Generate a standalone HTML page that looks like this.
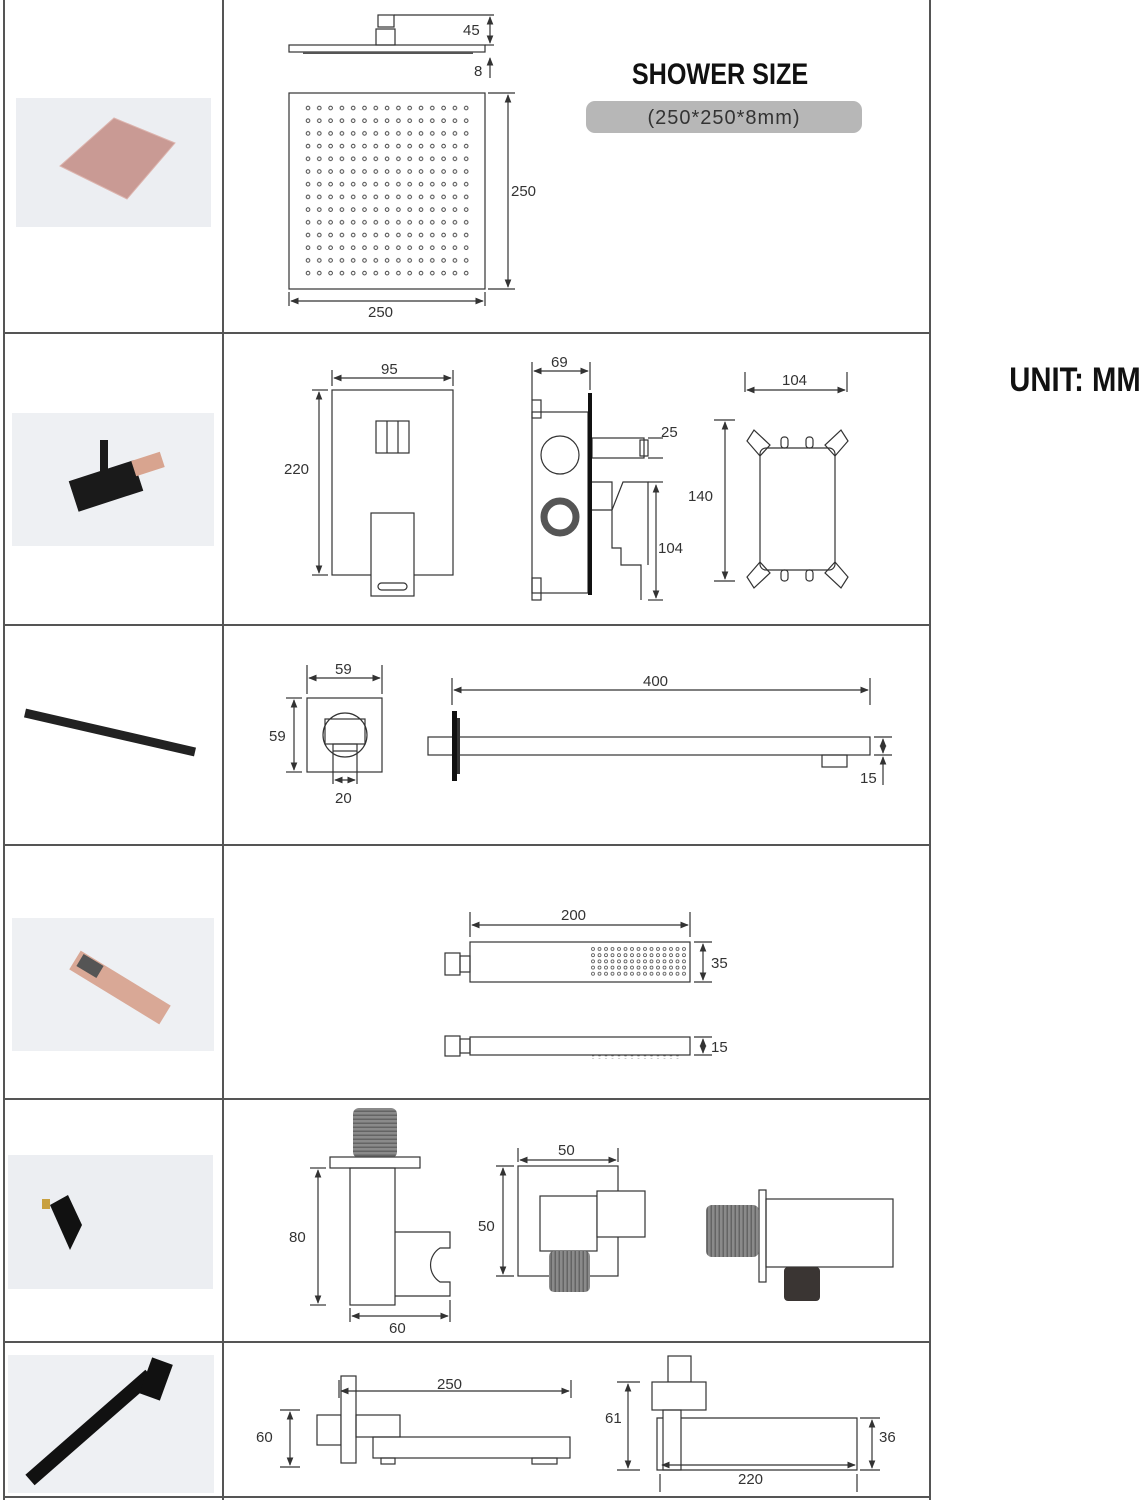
<!DOCTYPE html>
<html><head><meta charset="utf-8"><style>
html,body{margin:0;padding:0;background:#fff;}
svg{display:block;}
text{font-family:"Liberation Sans",sans-serif;fill:#333;}
</style></head><body>
<svg width="1145" height="1500" viewBox="0 0 1145 1500" xmlns="http://www.w3.org/2000/svg">
<defs>
<marker id="a" viewBox="0 0 10 10" refX="9" refY="5" markerWidth="7" markerHeight="7" orient="auto-start-reverse"><path d="M0,1 L10,5 L0,9 z" fill="#333"/></marker>
<pattern id="dots" x="303" y="103" width="11.3" height="12.7" patternUnits="userSpaceOnUse"><circle cx="5" cy="5" r="1.8" fill="none" stroke="#444" stroke-width="1"/></pattern>
<pattern id="hd" x="590" y="946" width="6.5" height="6.2" patternUnits="userSpaceOnUse"><circle cx="3" cy="3" r="1.5" fill="none" stroke="#555" stroke-width="0.8"/></pattern>
<pattern id="thr" width="6" height="4" patternUnits="userSpaceOnUse"><rect width="6" height="4" fill="#8a8a8a"/><rect y="2.6" width="6" height="1.2" fill="#5a5a5a"/></pattern>
<pattern id="thrv" width="4" height="6" patternUnits="userSpaceOnUse"><rect width="4" height="6" fill="#8a8a8a"/><rect x="2.6" width="1.2" height="6" fill="#5a5a5a"/></pattern>
</defs>

<g stroke="#555" stroke-width="2" fill="none">
<line x1="4" y1="0" x2="4" y2="1500"/>
<line x1="223" y1="0" x2="223" y2="1500"/>
<line x1="930" y1="0" x2="930" y2="1500"/>
<line x1="4" y1="333" x2="930" y2="333"/>
<line x1="4" y1="625" x2="930" y2="625"/>
<line x1="4" y1="845" x2="930" y2="845"/>
<line x1="4" y1="1099" x2="930" y2="1099"/>
<line x1="4" y1="1342" x2="930" y2="1342"/>
<line x1="4" y1="1497" x2="930" y2="1497"/>
</g>

<rect x="16" y="98" width="195" height="129" fill="#eceef2"/>
<polygon points="60,166 114,118 175,143 127,199" fill="#c99a94" stroke="#dcb4ae"/>
<rect x="12" y="413" width="202" height="133" fill="#eef0f3"/>
<g fill="#1a1a1a"><rect x="72" y="470" width="68" height="32" transform="rotate(-18 106 486)"/><rect x="100" y="440" width="8" height="40"/></g>
<rect x="133" y="456" width="30" height="16" fill="#d8a48f" transform="rotate(-18 148 464)"/>
<line x1="25" y1="713" x2="195" y2="752" stroke="#222" stroke-width="9"/>
<rect x="12" y="918" width="202" height="133" fill="#eef0f3"/>
<line x1="75" y1="960" x2="165" y2="1015" stroke="#d9a896" stroke-width="22"/>
<line x1="80" y1="960" x2="100" y2="972" stroke="#555" stroke-width="14"/>
<rect x="8" y="1155" width="205" height="134" fill="#eceef2"/>
<polygon points="50,1205 68,1195 82,1225 70,1250" fill="#111"/>
<rect x="42" y="1199" width="8" height="10" fill="#c8a040"/>
<rect x="8" y="1355" width="206" height="138" fill="#eef0f3"/>
<line x1="30" y1="1480" x2="150" y2="1375" stroke="#111" stroke-width="14"/>
<rect x="145" y="1360" width="22" height="38" fill="#111" transform="rotate(20 156 1379)"/>

<g stroke="#333" stroke-width="1.2" fill="none">
<rect x="289" y="45" width="196" height="7"/>
<rect x="376" y="29" width="19" height="16"/>
<rect x="378" y="15" width="16" height="12"/>
<line x1="394" y1="15" x2="494" y2="15"/>
<line x1="485" y1="45" x2="494" y2="45"/>
<rect x="289" y="93" width="196" height="196"/>
<line x1="488" y1="93" x2="515" y2="93"/><line x1="488" y1="289" x2="515" y2="289"/>
<line x1="289" y1="292" x2="289" y2="306"/><line x1="485" y1="292" x2="485" y2="306"/>
</g>
<g fill="#555"><rect x="303" y="52" width="170" height="2"/></g>
<rect x="303" y="103" width="170" height="178" fill="url(#dots)"/>
<g stroke="#333" stroke-width="1.2" marker-start="url(#a)" marker-end="url(#a)">
<line x1="490" y1="17" x2="490" y2="43"/>
<line x1="508" y1="95" x2="508" y2="287"/>
<line x1="291" y1="301" x2="483" y2="301"/>
</g>
<line x1="490" y1="58" x2="490" y2="78" stroke="#333" stroke-width="1.2" marker-start="url(#a)"/>
<g font-size="15"><text x="463" y="35">45</text><text x="474" y="76">8</text><text x="511" y="196">250</text><text x="368" y="317">250</text></g>
<text x="720" y="84" text-anchor="middle" font-weight="bold" font-size="30" style="fill:#111" transform="translate(720 0) scale(0.84 1) translate(-720 0)">SHOWER SIZE</text>
<rect x="586" y="101" width="276" height="32" rx="9" fill="#b7b7b7"/>
<text x="724" y="124" text-anchor="middle" font-size="20" style="fill:#333;letter-spacing:1px">(250*250*8mm)</text>
<text x="1075" y="391" text-anchor="middle" font-weight="bold" font-size="34" style="fill:#111" transform="translate(1075 0) scale(0.86 1) translate(-1075 0)">UNIT: MM</text>

<g stroke="#333" stroke-width="1.2" fill="none">
<rect x="332" y="390" width="121" height="185"/>
<rect x="376" y="421" width="33" height="32"/><line x1="387" y1="421" x2="387" y2="453"/><line x1="398" y1="421" x2="398" y2="453"/>
<rect x="371" y="513" width="43" height="83" fill="#fff"/>
<rect x="378" y="583" width="29" height="7" rx="3.5"/>
<line x1="332" y1="370" x2="332" y2="386"/><line x1="453" y1="370" x2="453" y2="386"/>
<line x1="312" y1="390" x2="328" y2="390"/><line x1="312" y1="575" x2="328" y2="575"/>
<rect x="532" y="412" width="56" height="181"/>
<rect x="532" y="400" width="9" height="18"/><rect x="532" y="578" width="9" height="22"/>
<circle cx="560" cy="455" r="19"/>
<rect x="592" y="438" width="52" height="20"/><rect x="640" y="440" width="8" height="16"/>
<path d="M592,510 L612,510 L612,548 L621,548 L621,565 L641,565 L641,600 M612,510 L623,482 L648,482 L648,565"/>
<path d="M592,482 L612,482 L612,510"/>
<line x1="532" y1="362" x2="532" y2="400"/><line x1="590" y1="362" x2="590" y2="390"/>
<line x1="648" y1="600" x2="663" y2="600"/><line x1="648" y1="482" x2="663" y2="482"/>
<line x1="648" y1="438" x2="663" y2="438"/><line x1="648" y1="458" x2="663" y2="458"/>
<rect x="760" y="448" width="75" height="122" rx="6"/>
<line x1="745" y1="372" x2="745" y2="392"/><line x1="847" y1="372" x2="847" y2="392"/>
<line x1="714" y1="420" x2="735" y2="420"/><line x1="714" y1="581" x2="735" y2="581"/>
</g>
<circle cx="560" cy="517" r="16" fill="none" stroke="#555" stroke-width="7"/>
<rect x="588" y="393" width="4" height="202" fill="#111"/>
<g stroke="#333" stroke-width="1.2" fill="none">
<path d="M760,456 L747,441 L754,430 L770,445 Z"/><path d="M835,456 L848,441 L841,430 L825,445 Z"/>
<path d="M760,562 L747,577 L754,588 L770,573 Z"/><path d="M835,562 L848,577 L841,588 L825,573 Z"/>
<rect x="781" y="437" width="7" height="11" rx="3"/><rect x="806" y="437" width="7" height="11" rx="3"/>
<rect x="781" y="570" width="7" height="11" rx="3"/><rect x="806" y="570" width="7" height="11" rx="3"/>
</g>
<g stroke="#333" stroke-width="1.2" marker-start="url(#a)" marker-end="url(#a)">
<line x1="334" y1="378" x2="451" y2="378"/>
<line x1="319" y1="392" x2="319" y2="573"/>
<line x1="534" y1="371" x2="588" y2="371"/>
<line x1="656" y1="485" x2="656" y2="598"/>
<line x1="747" y1="390" x2="845" y2="390"/>
<line x1="725" y1="422" x2="725" y2="579"/>
</g>
<g font-size="15"><text x="381" y="374">95</text><text x="284" y="474">220</text><text x="551" y="367">69</text><text x="661" y="437">25</text><text x="658" y="553">104</text><text x="782" y="385">104</text><text x="688" y="501">140</text></g>

<g stroke="#333" stroke-width="1.2" fill="none">
<rect x="307" y="698" width="75" height="74"/>
<circle cx="345" cy="735" r="22"/>
<rect x="325" y="719" width="40" height="25"/><rect x="333" y="744" width="24" height="7"/>
<line x1="307" y1="665" x2="307" y2="694"/><line x1="382" y1="665" x2="382" y2="694"/>
<line x1="286" y1="698" x2="302" y2="698"/><line x1="286" y1="772" x2="302" y2="772"/>
<line x1="333" y1="751" x2="333" y2="784"/><line x1="357" y1="751" x2="357" y2="784"/>
<rect x="428" y="737" width="442" height="18"/>
<rect x="822" y="755" width="25" height="12"/>
<line x1="452" y1="678" x2="452" y2="705"/><line x1="870" y1="678" x2="870" y2="705"/>
<line x1="874" y1="737" x2="892" y2="737"/><line x1="874" y1="755" x2="892" y2="755"/>
</g>
<rect x="452" y="711" width="5" height="70" fill="#111"/><rect x="457" y="718" width="3" height="56" fill="#333"/>
<g stroke="#333" stroke-width="1.2" marker-start="url(#a)" marker-end="url(#a)">
<line x1="309" y1="678" x2="380" y2="678"/>
<line x1="294" y1="700" x2="294" y2="770"/>
<line x1="335" y1="780" x2="355" y2="780"/>
<line x1="454" y1="690" x2="868" y2="690"/>
<line x1="883" y1="739" x2="883" y2="753"/>
</g>
<line x1="883" y1="785" x2="883" y2="757" stroke="#333" stroke-width="1.2" marker-end="url(#a)"/>
<g font-size="15"><text x="335" y="674">59</text><text x="269" y="741">59</text><text x="335" y="803">20</text><text x="643" y="686">400</text><text x="860" y="783">15</text></g>

<g stroke="#333" stroke-width="1.2" fill="none">
<rect x="470" y="942" width="220" height="40"/>
<rect x="445" y="953" width="15" height="22"/><rect x="460" y="956" width="10" height="16"/>
<rect x="470" y="1037" width="220" height="18"/>
<rect x="445" y="1036" width="15" height="20"/><rect x="460" y="1039" width="10" height="14"/>
<line x1="470" y1="912" x2="470" y2="937"/><line x1="690" y1="912" x2="690" y2="937"/>
<line x1="694" y1="942" x2="712" y2="942"/><line x1="694" y1="982" x2="712" y2="982"/>
<line x1="694" y1="1037" x2="712" y2="1037"/><line x1="694" y1="1055" x2="712" y2="1055"/>
</g>
<rect x="590" y="946" width="96" height="32" fill="url(#hd)"/>
<rect x="592" y="1055" width="88" height="4" fill="url(#hd)"/>
<g stroke="#333" stroke-width="1.2" marker-start="url(#a)" marker-end="url(#a)">
<line x1="472" y1="925" x2="688" y2="925"/>
<line x1="703" y1="944" x2="703" y2="980"/>
<line x1="703" y1="1039" x2="703" y2="1053"/>
</g>
<g font-size="15"><text x="561" y="920">200</text><text x="711" y="968">35</text><text x="711" y="1052">15</text></g>

<rect x="353" y="1108" width="44" height="50" rx="6" fill="url(#thr)"/>
<g stroke="#333" stroke-width="1.2" fill="none">
<rect x="330" y="1157" width="90" height="11" fill="#fff"/>
<rect x="350" y="1168" width="45" height="137"/>
<path d="M395,1232 L450,1232 L450,1248 L440,1248 A20,20 0 0 0 440,1282 L450,1282 L450,1296 L395,1296"/>
<line x1="310" y1="1168" x2="326" y2="1168"/><line x1="310" y1="1305" x2="326" y2="1305"/>
<line x1="350" y1="1308" x2="350" y2="1322"/><line x1="450" y1="1300" x2="450" y2="1322"/>
<rect x="518" y="1166" width="100" height="110"/>
<rect x="540" y="1196" width="57" height="55" fill="#fff"/>
<rect x="597" y="1191" width="48" height="46" fill="#fff"/>
<line x1="518" y1="1148" x2="518" y2="1162"/><line x1="618" y1="1148" x2="618" y2="1162"/>
<line x1="496" y1="1166" x2="514" y2="1166"/><line x1="496" y1="1276" x2="514" y2="1276"/>
<rect x="759" y="1190" width="7" height="92"/>
<rect x="766" y="1199" width="127" height="68"/>
</g>
<rect x="549" y="1251" width="41" height="41" rx="5" fill="url(#thrv)"/>
<rect x="706" y="1205" width="53" height="52" rx="6" fill="url(#thrv)"/>
<rect x="784" y="1267" width="36" height="34" rx="4" fill="#3a3533"/>
<g stroke="#333" stroke-width="1.2" marker-start="url(#a)" marker-end="url(#a)">
<line x1="318" y1="1170" x2="318" y2="1303"/>
<line x1="352" y1="1316" x2="448" y2="1316"/>
<line x1="520" y1="1160" x2="616" y2="1160"/>
<line x1="503" y1="1168" x2="503" y2="1274"/>
</g>
<g font-size="15"><text x="289" y="1242">80</text><text x="389" y="1333">60</text><text x="558" y="1155">50</text><text x="478" y="1231">50</text></g>

<g stroke="#333" stroke-width="1.2" fill="none">
<rect x="317" y="1415" width="24" height="30"/>
<rect x="341" y="1376" width="15" height="87" fill="#fff"/>
<rect x="356" y="1415" width="44" height="22"/>
<rect x="373" y="1437" width="197" height="21"/>
<rect x="381" y="1458" width="14" height="6"/><rect x="532" y="1458" width="25" height="6"/>
<line x1="339" y1="1380" x2="339" y2="1398"/><line x1="571" y1="1380" x2="571" y2="1398"/>
<line x1="280" y1="1410" x2="300" y2="1410"/><line x1="280" y1="1467" x2="300" y2="1467"/>
<rect x="668" y="1356" width="23" height="26"/>
<rect x="652" y="1382" width="54" height="28" fill="#fff"/>
<rect x="663" y="1410" width="18" height="60"/>
<path d="M663,1418 L657,1418 L657,1470 L857,1470 L857,1418 L681,1418"/>
<line x1="617" y1="1382" x2="640" y2="1382"/><line x1="617" y1="1470" x2="640" y2="1470"/>
<line x1="860" y1="1418" x2="880" y2="1418"/><line x1="860" y1="1470" x2="880" y2="1470"/>
<line x1="660" y1="1474" x2="660" y2="1492"/><line x1="857" y1="1474" x2="857" y2="1492"/>
</g>
<g stroke="#333" stroke-width="1.2" marker-start="url(#a)" marker-end="url(#a)">
<line x1="341" y1="1391" x2="569" y2="1391"/>
<line x1="290" y1="1412" x2="290" y2="1465"/>
<line x1="628" y1="1384" x2="628" y2="1468"/>
<line x1="872" y1="1420" x2="872" y2="1468"/>
<line x1="662" y1="1465" x2="855" y2="1465"/>
</g>
<g font-size="15"><text x="437" y="1389">250</text><text x="256" y="1442">60</text><text x="605" y="1423">61</text><text x="879" y="1442">36</text><text x="738" y="1484">220</text></g>
</svg>
</body></html>
